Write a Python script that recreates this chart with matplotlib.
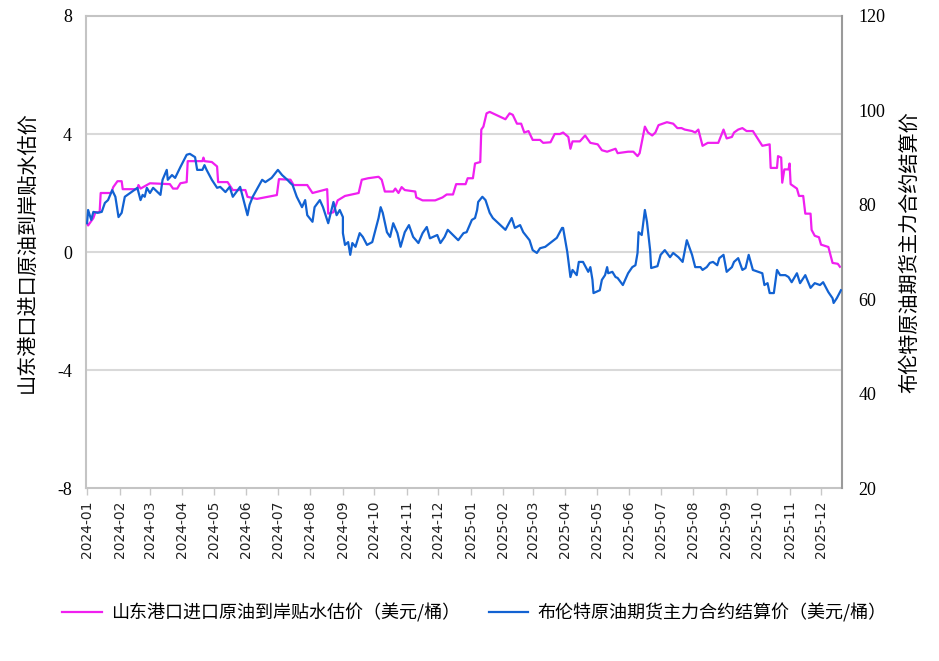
import numpy as np
import pandas as pd
import matplotlib
matplotlib.use("Agg")
import matplotlib.pyplot as plt
import matplotlib.dates as mdates

plt.rcParams['font.family'] = ['Noto Sans CJK SC', 'DejaVu Sans']
plt.rcParams['axes.unicode_minus'] = False

start = pd.Timestamp("2024-01-01")

# 山东港口进口原油到岸贴水估价 (美元/桶), days since 2024-01-01
sd_days = [0, 1, 6, 8, 12, 13, 23, 25, 29, 33, 34, 48, 49, 51, 60, 79, 82, 86, 89, 95,
           96, 110, 111, 112, 119, 124, 125, 134, 139, 151, 153, 162, 181, 183, 194, 197, 210, 215, 229, 230,
           235, 239, 246, 259, 262, 268, 278, 281, 284, 292, 294, 297, 300, 303, 313, 314, 320, 332, 339, 343,
           349, 352, 361, 363, 368, 370, 375, 376, 378, 381, 384, 387, 399, 403, 406, 410, 414, 417, 421, 425,
           432, 435, 442, 446, 451, 454, 459, 461, 463, 470, 475, 480, 487, 491, 496, 504, 506, 516, 521, 525,
           527, 532, 535, 539, 542, 545, 553, 559, 563, 567, 570, 577, 580, 583, 587, 592, 602, 607, 610, 615,
           617, 621, 625, 629, 635, 644, 651, 652, 658, 659, 662, 663, 665, 669, 670, 671, 677, 679, 683, 685,
           690, 691, 694, 698, 700, 707, 711, 716, 718]
sd_vals = [0.98, 0.9, 1.15, 1.35, 1.35, 2.0, 2.0, 2.2, 2.4, 2.4, 2.13, 2.13, 2.27, 2.15, 2.33, 2.3, 2.15, 2.15, 2.33, 2.37,
           3.08, 3.08, 3.2, 3.08, 3.05, 2.9, 2.37, 2.37, 2.1, 2.1, 1.87, 1.8, 1.93, 2.47, 2.45, 2.27, 2.27, 2.0, 2.13, 1.3,
           1.35, 1.75, 1.9, 2.0, 2.45, 2.5, 2.55, 2.45, 2.05, 2.05, 2.15, 2.0, 2.2, 2.1, 2.05, 1.85, 1.75, 1.75, 1.85, 1.95,
           1.95, 2.3, 2.3, 2.5, 2.5, 3.0, 3.05, 4.15, 4.25, 4.7, 4.75, 4.7, 4.5, 4.7, 4.65, 4.35, 4.35, 4.05, 4.1, 3.8,
           3.8, 3.7, 3.72, 4.0, 4.0, 4.05, 3.9, 3.5, 3.75, 3.75, 3.95, 3.7, 3.65, 3.45, 3.4, 3.5, 3.35, 3.4, 3.4, 3.25,
           3.35, 4.25, 4.05, 3.95, 4.05, 4.3, 4.4, 4.35, 4.2, 4.2, 4.15, 4.1, 4.05, 4.15, 3.6, 3.7, 3.7, 4.15, 3.85, 3.9,
           4.05, 4.15, 4.2, 4.1, 4.1, 3.6, 3.65, 2.85, 2.85, 3.25, 3.2, 2.35, 2.8, 2.8, 3.0, 2.3, 2.15, 1.9, 1.9, 1.3,
           1.3, 0.75, 0.55, 0.5, 0.25, 0.17, -0.37, -0.4, -0.5]

# 布伦特原油期货主力合约结算价 (美元/桶)
brent_days = [0, 1, 4, 6, 10, 14, 17, 20, 24, 27, 30, 33, 36, 48, 49, 51, 53, 55, 57, 60,
              63, 70, 72, 76, 77, 81, 84, 89, 95, 98, 103, 105, 110, 112, 114, 119, 124, 127, 132, 136,
              139, 146, 153, 155, 158, 167, 170, 176, 182, 186, 191, 194, 196, 200, 205, 208, 210, 215, 217, 222,
              225, 230, 235, 238, 241, 244, 244, 246, 249, 251, 253, 256, 260, 263, 267, 272, 278, 280, 282, 286,
              289, 292, 296, 299, 303, 307, 311, 316, 320, 324, 327, 334, 337, 341, 344, 349, 354, 359, 362, 367,
              370, 372, 373, 377, 380, 384, 387, 399, 405, 408, 413, 416, 422, 425, 429, 432, 437, 448, 453, 454,
              458, 461, 463, 467, 469, 473, 478, 480, 482, 483, 489, 491, 494, 496, 497, 501, 504, 506, 511, 516,
              520, 523, 525, 526, 529, 532, 534, 537, 538, 544, 547, 551, 556, 559, 564, 568, 572, 577, 580, 585,
              587, 591, 594, 597, 601, 603, 607, 610, 615, 617, 621, 625, 628, 631, 635, 644, 646, 649, 651, 655,
              658, 661, 666, 669, 672, 677, 680, 685, 690, 694, 699, 702, 707, 711, 712, 715, 719]
brent_vals = [76.1, 78.9, 76.8, 78.5, 78.3, 78.5, 80.4, 81.0, 83.1, 81.7, 77.4, 78.3, 81.7, 83.6, 82.7, 81.0, 82.1, 81.7, 83.6, 82.5,
              83.6, 82.1, 85.3, 87.4, 85.3, 86.3, 85.7, 88.0, 90.6, 90.8, 90.1, 87.4, 87.4, 88.4, 87.4, 85.3, 83.6, 83.8, 82.7, 83.8,
              81.7, 83.8, 77.8, 80.0, 81.7, 85.3, 84.8, 85.7, 87.4, 86.3, 85.3, 84.6, 84.2, 81.7, 79.5, 81.0, 77.8, 76.4, 79.5, 81.0,
              79.5, 76.1, 80.6, 77.8, 78.9, 77.4, 74.0, 71.5, 72.1, 69.4, 71.9, 71.1, 74.0, 73.2, 71.5, 72.1, 77.2, 79.5, 78.3, 74.2,
              73.2, 76.1, 74.0, 71.1, 74.2, 75.7, 73.2, 71.9, 74.0, 75.3, 72.9, 73.6, 71.9, 73.2, 74.7, 73.6, 72.5, 74.0, 74.2, 76.8,
              77.2, 78.9, 80.6, 81.7, 81.0, 78.3, 77.2, 74.7, 77.2, 75.1, 75.7, 74.2, 72.5, 70.4, 69.8, 70.8, 71.1, 73.0, 75.1, 75.1,
              70.0, 64.7, 66.2, 65.1, 67.9, 67.9, 65.8, 66.8, 64.1, 61.3, 61.9, 64.1, 65.1, 66.8, 65.5, 65.8, 64.7, 64.5, 63.0, 65.5,
              66.8, 67.2, 69.8, 74.2, 73.6, 78.9, 76.4, 70.4, 66.6, 67.0, 69.4, 70.4, 68.9, 69.8, 68.9, 67.9, 72.5, 69.4, 66.8, 66.8,
              66.2, 66.8, 67.7, 67.9, 67.2, 68.7, 69.4, 65.8, 66.8, 67.9, 68.7, 66.2, 66.6, 69.4, 66.2, 65.5, 63.0, 63.4, 61.3, 61.3,
              66.2, 65.1, 65.1, 64.7, 63.6, 65.5, 63.4, 65.1, 62.4, 63.4, 63.0, 63.6, 61.5, 60.2, 59.2, 60.2, 61.9]

sd_label = "山东港口进口原油到岸贴水估价（美元/桶）"
brent_label = "布伦特原油期货主力合约结算价（美元/桶）"
left_title = "山东港口进口原油到岸贴水估价"
right_title = "布伦特原油期货主力合约结算价"

sd_dates = start + pd.to_timedelta(sd_days, unit="D")
brent_dates = start + pd.to_timedelta(brent_days, unit="D")

magenta = "#f01ff0"
blue = "#1262d2"

fig = plt.figure(figsize=(9.39, 6.61), dpi=100)
ax = fig.add_axes([0.0916, 0.2617, 0.8051, 0.7141])
ax2 = ax.twinx()

l1, = ax.plot(sd_dates, sd_vals, color=magenta, lw=1.6, zorder=3)
l2, = ax2.plot(brent_dates, brent_vals, color=blue, lw=1.6, zorder=3)

ax.set_ylim(-8, 8)
ax.set_yticks([-8, -4, 0, 4, 8])
ax2.set_ylim(20, 120)
ax2.set_yticks([20, 40, 60, 80, 100, 120])
ax.set_xlim(pd.Timestamp("2023-12-31"), pd.Timestamp("2025-12-21"))

for v in [-4, 0, 4]:
    ax.axhline(v, color="#d9d9d9", lw=1.5, zorder=1)

months = pd.date_range("2024-01-01", "2025-12-01", freq="MS")
ax.set_xticks(months)
ax.set_xticklabels([m.strftime("%Y-%m") for m in months], rotation=90, fontsize=10,
                   family=['DejaVu Sans'], color="#222222")
ax.tick_params(axis="x", length=5, color="#c8c8c8", width=1, pad=4)
ax.tick_params(axis="y", length=0, pad=10)
ax2.tick_params(axis="y", length=0, pad=12)
for lab in ax.get_yticklabels() + ax2.get_yticklabels():
    lab.set_family(['Liberation Serif'])
    lab.set_fontsize(13)

for s in ["top", "left", "bottom"]:
    ax.spines[s].set_color("#c4c4c4")
    ax.spines[s].set_linewidth(1.5)
ax.spines["right"].set_visible(False)
for s in ["top", "left", "bottom"]:
    ax2.spines[s].set_visible(False)
ax2.spines["right"].set_color("#9a9a9a")
ax2.spines["right"].set_linewidth(1.5)

ax.set_ylabel(left_title, fontsize=14.5, labelpad=14)
ax2.set_ylabel(right_title, fontsize=14.5, labelpad=10, rotation=90)

fig.legend([l1, l2], [sd_label, brent_label], loc="center", bbox_to_anchor=(0.505, 0.073),
           ncol=2, frameon=False, fontsize=13, handlelength=2.2, handletextpad=0.5,
           columnspacing=1.6)

fig.savefig("out.png", dpi=100)
